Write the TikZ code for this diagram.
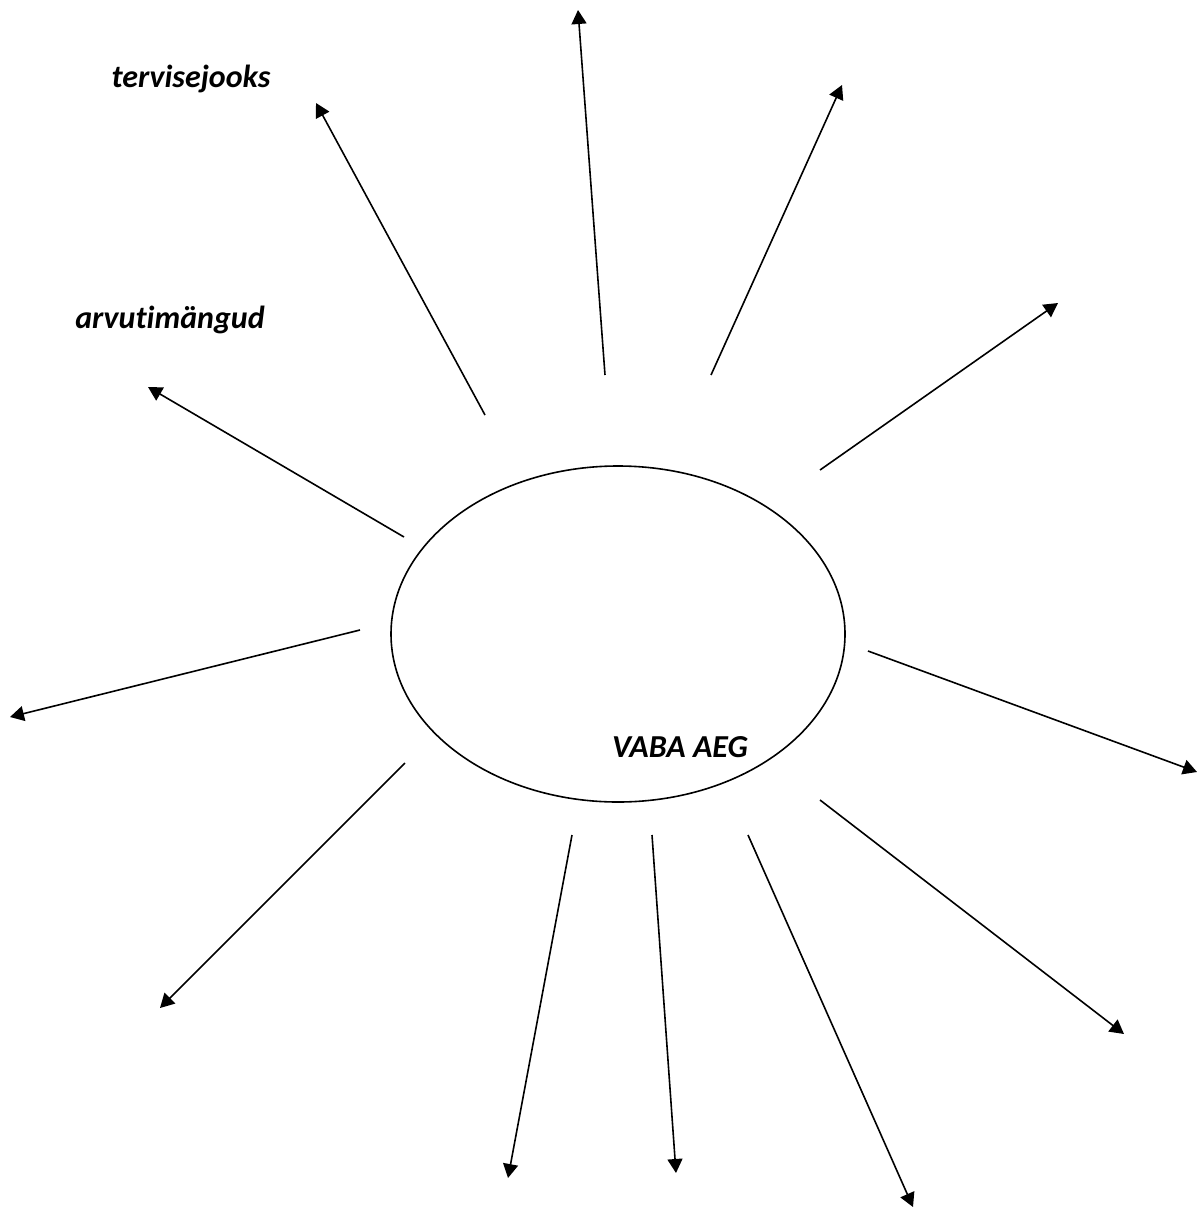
\documentclass[tikz,border=0pt]{standalone}
\usepackage{fontspec}
\setmainfont{Carlito}[RawFeature=-liga]
\usetikzlibrary{arrows.meta,shapes.geometric}
\begin{document}
\begin{tikzpicture}[x=1pt,y=-1pt,
  ray/.style={line width=1.6pt,-{Triangle[length=14pt,width=15pt]}},
  lbl/.style={font=\fontsize{32}{36}\selectfont\bfseries\itshape,inner sep=0pt,anchor=base}]
\useasboundingbox (0,0) rectangle (1197,1207);
\node[draw,line width=1.6pt,ellipse,minimum width=454pt,minimum height=336pt,inner sep=0pt] (c) at (618,634) {};
\node[lbl] (t1) at (191,87) {tervisejooks};
\node[lbl] (t2) at (170,328) {arvutimängud};
\node[lbl] (t3) at (680,757) {VABA AEG};
\foreach \i/\sx/\sy/\ex/\ey in {
  1/605/375/578/10, 2/711/375/842/85, 3/820/470/1058/303, 4/868/651/1197/772,
  5/820/800/1124/1034, 6/748/835/913/1207, 7/652/835/676/1173, 8/572/835/508/1178,
  9/405/763/160/1008, 10/360/630/10/717, 11/404/537/148/387, 12/485/415/316/103}{
  \coordinate (s\i) at (\sx,\sy);
  \coordinate (e\i) at (\ex,\ey);
  \draw[ray] (s\i) -- (e\i);
}
\end{tikzpicture}
\end{document}
